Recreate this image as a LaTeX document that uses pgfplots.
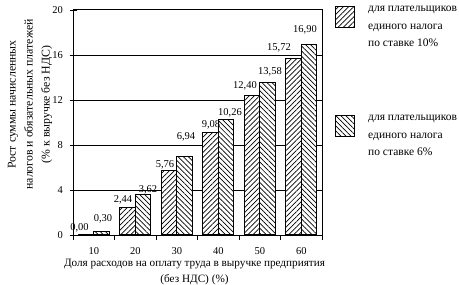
\documentclass[border=0pt]{standalone}
\usepackage{fontspec}
\setmainfont{Liberation Serif}
\usepackage{pgfplots}
\pgfplotsset{compat=1.18}
\usepackage{pgfplotstable}
\usetikzlibrary{patterns.meta}

\pgfplotstableread{
x y dx dy
0 0.00 -6.5 7
1 2.44 -4.5 7.5
2 5.76 -4 5
3 9.08 0.5 8
4 12.40 -7 10
5 15.72 -14.5 10
}\seriesA
\pgfplotstableread{
x y dx dy
0 0.30 1.5 13
1 3.62 5 4
2 6.94 1.5 20
3 10.26 4 7
4 13.58 2.5 10
5 16.90 -4 15
}\seriesB

\begin{document}
\begin{tikzpicture}
\begin{axis}[
  name=main,
  scale only axis,
  width=249pt, height=225pt,
  xmin=-0.5, xmax=5.5,
  ymin=0, ymax=20,
  ytick={0,4,...,20},
  xtick={0,...,5},
  xticklabels={10,20,30,40,50,60},
  major x tick style={draw=none},
  minor xtick={-0.5,0.5,...,5.5},
  minor x tick style={black, line width=0.9pt},
  minor tick length=5pt,
  xtick pos=bottom,
  ytick pos=left,
  tick align=center,
  major tick length=7pt,
  major y tick style={black, line width=0.9pt},
  axis line style={line width=1pt},
  ymajorgrids,
  grid style={black, line width=1pt},
  ybar=0pt,
  bar width=15.5pt,
  /pgf/number format/assume math mode=true,
  tick label style={font=\fontsize{10.5}{12}\selectfont},
  xticklabel style={yshift=-2pt},
  yticklabel style={xshift=-3pt},
  ylabel={\begin{tabular}{@{}c@{}}Рост суммы начисленных\\[3.5pt]налогов и обязательных платежей\\[3.5pt](\% к выручке без НДС)\end{tabular}},
  ylabel style={at={(ticklabel cs:0.58)}, font=\fontsize{11.8}{13.5}\selectfont, yshift=-1pt},
  ylabel shift=-7pt,
  xlabel={\begin{tabular}{@{}c@{}}Доля расходов на оплату труда в выручке предприятия\\[3pt](без НДС) (\%)\end{tabular}},
  xlabel style={font=\fontsize{11.2}{13}\selectfont, yshift=4pt, xshift=-3pt},
  nodes near coords,
  point meta=y,
  nodes near coords style={anchor=center, xshift=\dx pt, yshift=\dy pt,
     font=\fontsize{10.5}{12}\selectfont,
     /pgf/number format/.cd, fixed, fixed zerofill, precision=2, use comma, assume math mode=true},
  visualization depends on={\thisrow{dx} \as \dx},
  visualization depends on={\thisrow{dy} \as \dy},
  legend style={at={(rel axis cs:1,1)}, anchor=north west, xshift=13pt, yshift=6pt,
     draw=none, fill=none, row sep=63pt, column sep=11pt, inner sep=0pt,
     nodes={align=left, font=\fontsize{11.5}{17.5}\selectfont}},
  legend cell align=left,
  legend image code/.code={\draw[#1, line width=1pt] (0pt,0pt) rectangle (19pt,21pt);},
]
\addplot[draw=black, line width=1.1pt, fill=white,
  postaction={pattern={Lines[angle=45, distance=3.6pt, line width=0.7pt]}}]
  table[x=x, y=y] {\seriesA};
\addlegendentry{для плательщиков\\единого налога\\по ставке 10\%}
\addplot[draw=black, line width=1.1pt, fill=white,
  postaction={pattern={Lines[angle=-45, distance=3.6pt, line width=0.7pt]}}]
  table[x=x, y=y] {\seriesB};
\addlegendentry{для плательщиков\\единого налога\\по ставке 6\%}
\end{axis}
\pgfresetboundingbox
\path ([shift={(-73pt,-49pt)}]main.south west) rectangle ([shift={(137pt,10pt)}]main.north east);
\end{tikzpicture}
\end{document}
